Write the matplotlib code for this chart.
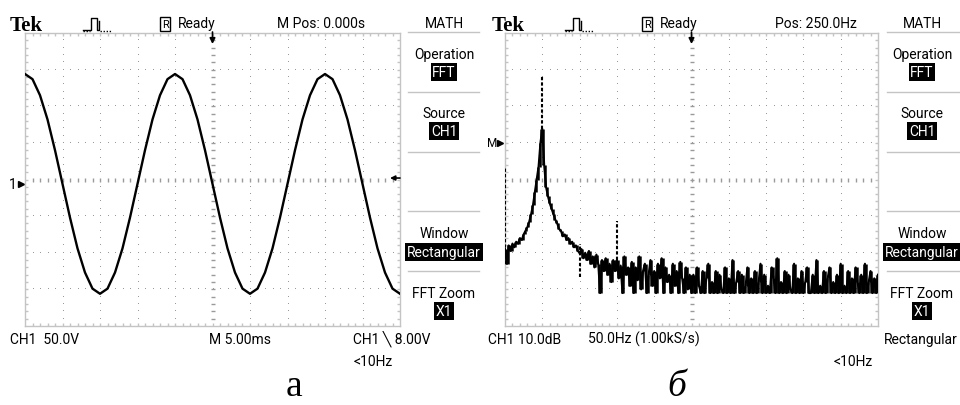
import numpy as np
import matplotlib.pyplot as plt
from matplotlib.lines import Line2D
from matplotlib import transforms

W, H = 960, 406

# --- screen a: CH1 waveform, 5 ms/div, 50 V/div, read every 1 ms
time_ms = np.arange(0, 51, 1)
ch1_volts = [150, 143, 121, 88, 46, 0, -46, -88, -121, -143,
             -150, -143, -121, -88, -46, 0, 46, 88, 121, 143,
             150, 143, 121, 88, 46, 0, -46, -88, -121, -143,
             -150, -143, -121, -88, -46, 0, 46, 88, 121, 143,
             150, 143, 121, 88, 46, 0, -46, -88, -121, -143,
             -150]

# --- screen b: FFT of CH1, 50 Hz/div, 10 dB/div, one value per 2.5 Hz
freq_hz = np.arange(0, 501, 2.5)
low_db = [-29, -33, -28, -29.5, -27.5, -28.5, -27, -27.5, -26, -26.5,
          -25, -24, -23, -21.5, -19.5, -17, -13.5, -10, -6.5, 0,
          3.8, -6, -12, -14.5, -16.5, -18, -19.5, -21, -22, -23.5,
          -24, -25.5, -25, -26.5, -26, -27.5, -27, -28.5, -28, -29.5]
mid_db = [-30, -29, -31.5, -30, -32, -29.5, -33, -31, -34, -30.5,
          -33, -41, -32, -35, -31.5, -36, -33, -38, -32, -35,
          -32, -37, -33.5, -41, -31, -36, -34, -39, -32.5, -41,
          -34, -37.5, -31, -40, -35, -33, -41, -36, -32, -39,
          -35, -41, -33, -37, -31.5, -41, -34, -38, -36, -41,
          -33, -39, -35, -41, -32.5, -37, -41, -34, -40, -36]
high_db = [-41, -36, -41, -34, -39, -41, -35, -41, -37, -33,
           -41, -38, -41, -35, -41, -36, -40, -41, -34, -41,
           -37, -41, -32, -41, -38, -35, -41, -36, -41, -39,
           -34, -41, -37, -41, -35, -41, -38, -33, -41, -36,
           -41, -39, -41, -34, -37, -41, -31.5, -41, -38, -41,
           -35, -41, -36, -40, -41, -33, -41, -37, -41, -35,
           -41, -38, -34, -41, -41, -36, -41, -32, -41, -39,
           -41, -35, -41, -37, -34, -41, -38, -41, -36, -41,
           -33, -41, -39, -41, -35, -41, -37, -41, -34, -38,
           -41, -36, -41, -33, -41, -38, -35, -41, -37, -41,
           -36]
spectrum_db = np.array(low_db + mid_db + high_db)

# jumps the scope draws as dotted verticals
spike_hz = [0, 50, 100, 150]
spike_lo = [-33, 3.8, -36.5, -32]
spike_hi = [-6.6, 18.3, -27.5, -21.3]

menu_a = [("MATH", None), ("Operation", "FFT"), ("Source", "CH1"),
          (None, None), ("Window", "Rectangular"), ("FFT Zoom", "X1")]
menu_b = menu_a

UI = ['Roboto', 'DejaVu Sans']
EDGE = '#c4c4c4'
DOT = '#9a9a9a'
FS = 10

fig = plt.figure(figsize=(W / 100, H / 100), dpi=100)


def fx(x):
    return x / W


def fy(y):
    return 1 - y / H


def txt(x, y, s, **kw):
    kw.setdefault('family', UI)
    kw.setdefault('fontsize', FS)
    return fig.text(fx(x), fy(y), s, va='baseline', **kw)


def hline(x0, x1, y, **kw):
    fig.add_artist(Line2D([fx(x0), fx(x1)], [fy(y), fy(y)],
                          transform=fig.transFigure, **kw))


def screen(left, width):
    ax = fig.add_axes([fx(left), 79 / H, width / W, 293 / H])
    ax.set_xticks([])
    ax.set_yticks([])
    for s in ax.spines.values():
        s.set_color(EDGE)
        s.set_linewidth(1)
    tr = ax.transAxes
    ys = np.arange(1, 40) / 40
    xs = np.arange(1, 50) / 50
    for i in range(1, 10):
        if i != 5:
            ax.plot(np.full(ys.size, i / 10), ys, ',', color=DOT, transform=tr)
    for k in range(1, 8):
        if k != 4:
            ax.plot(xs, np.full(xs.size, k / 8), ',', color=DOT, transform=tr)
    ax.plot(np.full(ys.size, 0.5), ys, '_', ms=3, mew=1, color=DOT, transform=tr)
    ax.plot(xs, np.full(xs.size, 0.5), '|', ms=3, mew=1, color=DOT, transform=tr)
    tx, ty = 3 / 293, 3 / width
    ax.vlines(xs, 1 - tx, 1, color=EDGE, lw=1, transform=tr)
    ax.vlines(xs, 0, tx, color=EDGE, lw=1, transform=tr)
    ax.hlines(ys, 0, ty, color=EDGE, lw=1, transform=tr)
    ax.hlines(ys, 1 - ty, 1, color=EDGE, lw=1, transform=tr)
    ax.annotate('', xy=(0.5, 1 - 11 / 293), xytext=(0.5, 1 + 1 / 293),
                xycoords='axes fraction',
                arrowprops=dict(arrowstyle='-|>', color='k', lw=1.2,
                                mutation_scale=8, shrinkA=0, shrinkB=0))
    return ax


def header(x0, pos_text, pos_x):
    fig.text(fx(x0), fy(31), "Tek", family='Liberation Serif',
             weight='bold', fontsize=15, va='baseline')
    # acquisition icon
    px = [x0 + 73, x0 + 81, x0 + 81, x0 + 87, x0 + 87, x0 + 89, x0 + 89]
    py = [31, 31, 19, 19, 31, 31, 22]
    fig.add_artist(Line2D([fx(v) for v in px], [fy(v) for v in py],
                          transform=fig.transFigure, color='k', lw=1))
    hline(x0 + 73, x0 + 80, 31.5, color='k', lw=1, ls=(0, (1, 1.2)))
    hline(x0 + 90, x0 + 102, 31.5, color='k', lw=1, ls=(0, (1, 1.2)))
    txt(x0 + 152, 28, "R", fontsize=8,
        bbox=dict(boxstyle='square,pad=0.15', fc='white', ec='k', lw=1))
    txt(x0 + 168, 28, "Ready")
    txt(pos_x, 28, pos_text)


def menu(cx, x0, x1, items):
    rows = [28, 59, 118, 178, 238, 298]
    boxes = [None, 77, 136, None, 257, 316]
    for (lab, val), yl, yb in zip(items, rows, boxes):
        if lab:
            txt(cx, yl, lab, ha='center')
        if val:
            txt(cx, yb, val, ha='center', color='white',
                bbox=dict(boxstyle='square,pad=0.12', fc='black', ec='none'))
    for y in [33, 93, 153, 212, 272]:
        hline(x0, x1, y, color=EDGE, lw=1)


# ---------- screen a
ax_a = screen(25, 375)
ax_a.set_xlim(0, 50)
ax_a.set_ylim(-194, 206)
ax_a.plot(time_ms, ch1_volts, color='black', lw=1.7, zorder=5)
bl_a = transforms.blended_transform_factory(ax_a.transAxes, ax_a.transData)
ax_a.text(-12 / 375, 0, "1", transform=bl_a, ha='center', va='center',
          family=UI, fontsize=FS)
ax_a.plot([-4 / 375], [0], '>', ms=4, color='k', transform=bl_a, clip_on=False)
ax_a.annotate('', xy=(1 - 10 / 375, 8), xytext=(1, 8),
              xycoords=('axes fraction', 'data'),
              arrowprops=dict(arrowstyle='-|>', color='k', lw=1.2,
                              mutation_scale=7, shrinkA=0, shrinkB=0))
header(10, "M Pos: 0.000s", 277)
menu(444, 408, 479, menu_a)
txt(10, 344, "CH1  50.0V")
txt(209, 344, "M 5.00ms")
txt(353, 344, "CH1 \u2572 8.00V")
txt(353, 366, "<10Hz")
fig.text(fx(294), fy(396), "а", family='Liberation Serif', fontsize=27,
         ha='center', va='baseline')

# ---------- screen b
ax_b = screen(505, 373)
ax_b.set_xlim(0, 500)
ax_b.set_ylim(-50, 30)
ax_b.plot(freq_hz, spectrum_db, color='black', lw=1.5, zorder=5)
# peak-detect style fill between neighbouring bins
ax_b.vlines(freq_hz[:-1] + 1.25, np.minimum(spectrum_db[:-1], spectrum_db[1:]),
            np.maximum(spectrum_db[:-1], spectrum_db[1:]), colors='k',
            lw=1.8, zorder=5)
ax_b.vlines(spike_hz, spike_lo, spike_hi, colors='k', lw=1.5,
            linestyles=[(0, (1.6, 1.0))], zorder=5)
bl_b = transforms.blended_transform_factory(ax_b.transAxes, ax_b.transData)
ax_b.text(-13 / 373, 0, "M", transform=bl_b, ha='center', va='center',
          family=UI, fontsize=FS - 1.5)
ax_b.plot([-5 / 373], [0], '>', ms=4, color='k', transform=bl_b, clip_on=False)
header(492, "Pos: 250.0Hz", 775)
menu(922, 887, 960, menu_b)
txt(488, 344, "CH1 10.0dB")
txt(588, 344, "50.0Hz (1.00kS/s)")
txt(884, 344, "Rectangular")
txt(833, 366, "<10Hz")
fig.text(fx(677), fy(396), "б", family='Liberation Serif', style='italic',
         fontsize=27, ha='center', va='baseline')

fig.savefig("out.png", dpi=100)
